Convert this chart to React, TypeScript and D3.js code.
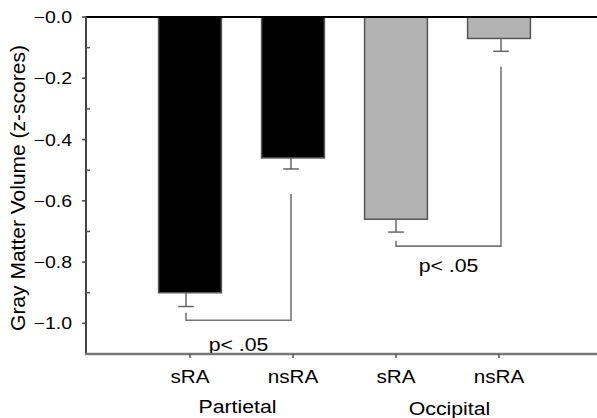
import React from "react";
import * as d3 from "d3";

const categories = ["P-sRA", "P-nsRA", "O-sRA", "O-nsRA"];
const categoryLabels = ["sRA", "nsRA", "sRA", "nsRA"];
const means = [-0.9, -0.46, -0.66, -0.07];
const errors = [0.045, 0.036, 0.042, 0.042];
const barFills = ["#000000", "#000000", "#b3b3b3", "#b3b3b3"];
const groupLabels = ["Partietal", "Occipital"];
const groupMembers = [["P-sRA", "P-nsRA"], ["O-sRA", "O-nsRA"]];
const majorTicks = [0, -0.2, -0.4, -0.6, -0.8, -1.0];
const majorTickLabels = ["−0.0", "−0.2", "−0.4", "−0.6", "−0.8", "−1.0"];
const minorTicks = [-0.1, -0.3, -0.5, -0.7, -0.9];
const brackets = [
  { from: "P-sRA", to: "P-nsRA", leftStart: -0.965, level: -0.99, rightStart: -0.578, labelY: -1.089, label: "p< .05" },
  { from: "O-sRA", to: "O-nsRA", leftStart: -0.73, level: -0.748, rightStart: -0.162, labelY: -0.831, label: "p< .05" },
];
const yTitle = "Gray Matter Volume (z-scores)";

const W = 597;
const H = 418;
const left = 86;
const right = 597;
const top = 17;
const bottom = 354;
const FONT = "'Liberation Sans', Arial, Helvetica, sans-serif";
const SX = 1.15;

export default function App() {
  const y = d3.scaleLinear().domain([-1.1, 0]).range([bottom, top]);
  const x = d3.scaleBand<string>().domain(categories).range([138.5, 550.5]).paddingInner(0.39).paddingOuter(0.195);
  const ex = d3.scalePoint<string>().domain(categories).range([186, 501]);
  const cx = (c: string) => (x(c) as number) + x.bandwidth() / 2;
  const cap = 7.8;

  const stretchText = (tx: number, ty: number, s: number) => `translate(${tx},${ty}) scale(${s},1)`;

  return (
    <svg width={W} height={H} style={{ position: "absolute", left: 0, top: 0, background: "#fff" }} fontFamily={FONT}>
      <rect x={0} y={0} width={W} height={H} fill="#fff" />
      {categories.map((c, i) => (
        <rect
          key={c}
          x={x(c)}
          y={y(0)}
          width={x.bandwidth()}
          height={y(means[i]) - y(0)}
          fill={barFills[i]}
          stroke="#555"
          strokeWidth={1.5}
        />
      ))}
      {categories.map((c, i) => {
        const ex0 = ex(c) as number;
        const y0 = y(means[i]);
        const y1 = y(means[i] - errors[i]);
        return (
          <g key={"e" + c} stroke="#666" strokeWidth={1.5}>
            <line x1={ex0} x2={ex0} y1={y0} y2={y1} />
            <line x1={ex0 - cap} x2={ex0 + cap} y1={y1} y2={y1} />
          </g>
        );
      })}
      {brackets.map((b, i) => {
        const x1 = ex(b.from) as number;
        const x2 = ex(b.to) as number;
        const yl = y(b.level);
        return (
          <g key={"b" + i}>
            <path
              d={`M${x1},${y(b.leftStart)}V${yl}H${x2}V${y(b.rightStart)}`}
              fill="none"
              stroke="#777"
              strokeWidth={1.6}
            />
            <text
              transform={stretchText((x1 + x2) / 2, y(b.labelY), SX)}
              textAnchor="middle"
              fontSize={18.5}
              fill="#000"
            >
              {b.label}
            </text>
          </g>
        );
      })}
      <line x1={left} x2={right} y1={y(0)} y2={y(0)} stroke="#000" strokeWidth={2} />
      <line x1={left} x2={left} y1={top} y2={bottom} stroke="#444" strokeWidth={2} />
      <line x1={left - 1} x2={right} y1={bottom} y2={bottom} stroke="#777" strokeWidth={2.5} />
      {majorTicks.map((t, i) => (
        <g key={"t" + t}>
          <line x1={left - 4} x2={left} y1={y(t)} y2={y(t)} stroke="#444" strokeWidth={1.5} />
          <text
            transform={stretchText(72, y(t) + 6, 1.18)}
            textAnchor="end"
            fontSize={16.5}
            fill="#000"
          >
            {majorTickLabels[i]}
          </text>
        </g>
      ))}
      {minorTicks.map((t) => (
        <line key={"m" + t} x1={left} x2={left + 4} y1={y(t)} y2={y(t)} stroke="#555" strokeWidth={1.5} />
      ))}
      {categories.map((c, i) => (
        <g key={"x" + c}>
          <line x1={cx(c)} x2={cx(c)} y1={bottom} y2={bottom + 4} stroke="#555" strokeWidth={1.5} />
          <text transform={stretchText(cx(c), 382.7, SX)} textAnchor="middle" fontSize={18} fill="#000">
            {categoryLabels[i]}
          </text>
        </g>
      ))}
      {groupLabels.map((g, i) => {
        const mid = (cx(groupMembers[i][0]) + cx(groupMembers[i][1])) / 2;
        const by = i === 0 ? 413 : 414.5;
        return (
          <text key={g} transform={stretchText(mid + (i === 0 ? -4 : 2), by, SX)} textAnchor="middle" fontSize={18.5} fill="#000">
            {g}
          </text>
        );
      })}
      <text
        transform={`translate(25,188) rotate(-90)`}
        textAnchor="middle"
        fontSize={21}
        fill="#000"
      >
        {yTitle}
      </text>
    </svg>
  );
}
